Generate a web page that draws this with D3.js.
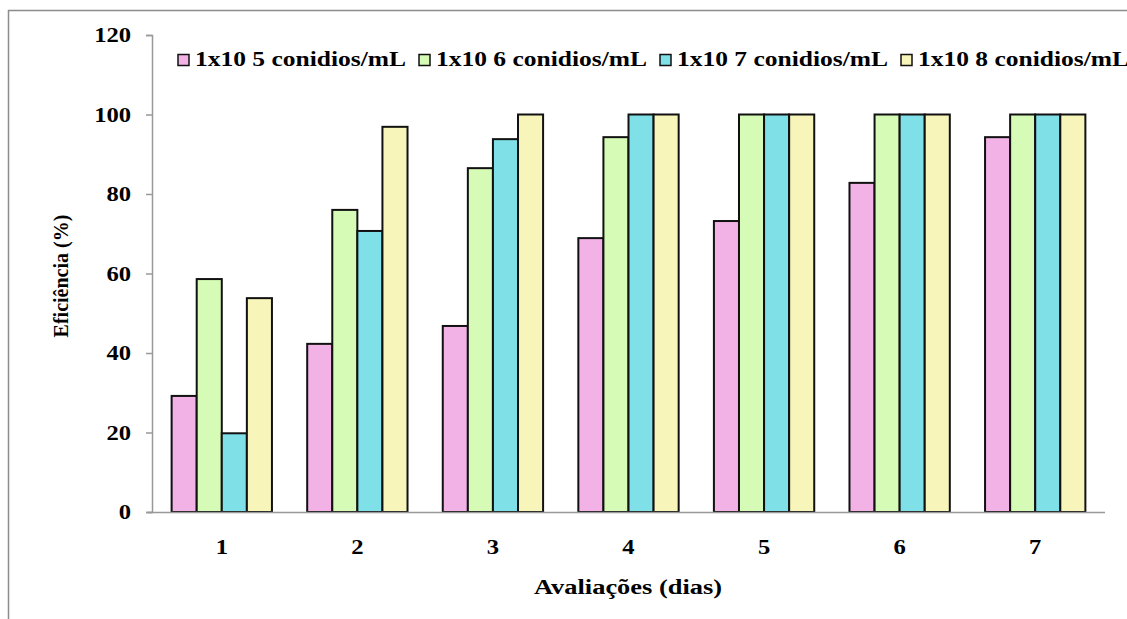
<!DOCTYPE html>
<html>
<head>
<meta charset="utf-8">
<script src="https://cdn.jsdelivr.net/npm/d3@7"></script>
<style>
  body { margin: 0; background: #fff; }
</style>
</head>
<body>
<div id="chart"></div>
<script>
// dias de avaliacao
const days = ["1", "2", "3", "4", "5", "6", "7"];
const seriesNames = ["1x10 5 conidios/mL", "1x10 6 conidios/mL", "1x10 7 conidios/mL", "1x10 8 conidios/mL"];
const conc5 = [29.2, 42.3, 46.8, 68.9, 73.2, 82.8, 94.3];
const conc6 = [58.6, 76.0, 86.5, 94.3, 100, 100, 100];
const conc7 = [19.8, 70.7, 93.8, 100, 100, 100, 100];
const conc8 = [53.8, 96.9, 100, 100, 100, 100, 100];
const yTicks = [0, 20, 40, 60, 80, 100, 120];

const colors = ["#f2b2e6", "#d5fbb6", "#80e0e8", "#f7f5ba"];
const series = [conc5, conc6, conc7, conc8];
const serif = "\"Liberation Serif\"";

let width = 1127;
let height = 619;

let svg = d3.select("#chart")
            .append("svg")
            .attr("width", width)
            .attr("height", height);

// moldura
svg.append("path")
   .attr("d", `M8.5,${height} V10.5 H${width}`)
   .attr("fill", "none")
   .attr("stroke", "#8c8c8c")
   .attr("stroke-width", 1.5);

let xScale = d3.scaleBand()
               .domain(days)
               .range([154, 1103])
               .paddingInner(0.26)
               .paddingOuter(0.13);

let xInner = d3.scaleBand()
               .domain(d3.range(series.length))
               .range([0, xScale.bandwidth()]);

let yScale = d3.scaleLinear()
               .domain([0, 120])
               .range([512, 35]);

// eixo y
let yAxis = d3.axisLeft(yScale)
              .tickValues(yTicks)
              .tickSize(6)
              .tickPadding(11.5);

let gy = svg.append("g")
            .attr("transform", "translate(152, 0)")
            .call(yAxis);
gy.select(".domain").attr("stroke", "#999").attr("stroke-width", 1.5);
gy.selectAll(".tick line").attr("stroke", "#999").attr("stroke-width", 1.5);
gy.selectAll(".tick text")
  .style("font-family", serif)
  .style("font-weight", "bold")
  .style("font-size", "20.5px")
  .attr("transform", "scale(1.2,1)")
  .attr("fill", "#000");

// barras
days.forEach((day, i) => {
  series.forEach((vals, s) => {
    svg.append("rect")
       .attr("x", xScale(day) + xInner(s))
       .attr("y", yScale(vals[i]))
       .attr("width", xInner.bandwidth())
       .attr("height", yScale(0) - yScale(vals[i]))
       .attr("fill", colors[s])
       .attr("stroke", "#111")
       .attr("stroke-width", 2);
  });
});

// eixo x
let xAxis = d3.axisBottom(xScale)
              .tickSize(0)
              .tickPadding(27);

let gx = svg.append("g")
            .attr("transform", "translate(0, 512)")
            .call(xAxis);
gx.select(".domain")
  .attr("d", "M148,0.5H1105")
  .attr("stroke", "#999")
  .attr("stroke-width", 1.5);
gx.selectAll(".tick text")
  .style("font-family", serif)
  .style("font-weight", "bold")
  .style("font-size", "20.5px")
  .attr("transform", "scale(1.2,1)")
  .attr("fill", "#000");

// titulos dos eixos
svg.append("text")
   .attr("x", 534)
   .attr("y", 594)
   .attr("textLength", 188)
   .attr("lengthAdjust", "spacingAndGlyphs")
   .style("font-family", serif)
   .style("font-weight", "bold")
   .style("font-size", "20px")
   .text("Avaliações (dias)");

svg.append("text")
   .attr("transform", "translate(68, 276) rotate(-90)")
   .attr("text-anchor", "middle")
   .style("font-family", serif)
   .style("font-weight", "bold")
   .style("font-size", "20px")
   .text("Eficiência (%)");

// legenda
let legend = svg.append("g");
seriesNames.forEach((name, s) => {
  let lx = 178 + s * 241;
  legend.append("rect")
        .attr("x", lx)
        .attr("y", 54.5)
        .attr("width", 11)
        .attr("height", 11)
        .attr("fill", colors[s])
        .attr("stroke", "#111")
        .attr("stroke-width", 1.5);
  legend.append("text")
        .attr("x", lx + 17)
        .attr("y", 66)
        .attr("textLength", 211)
        .attr("lengthAdjust", "spacingAndGlyphs")
        .style("font-family", serif)
        .style("font-weight", "bold")
        .style("font-size", "20.5px")
        .text(name);
});
</script>
</body>
</html>
